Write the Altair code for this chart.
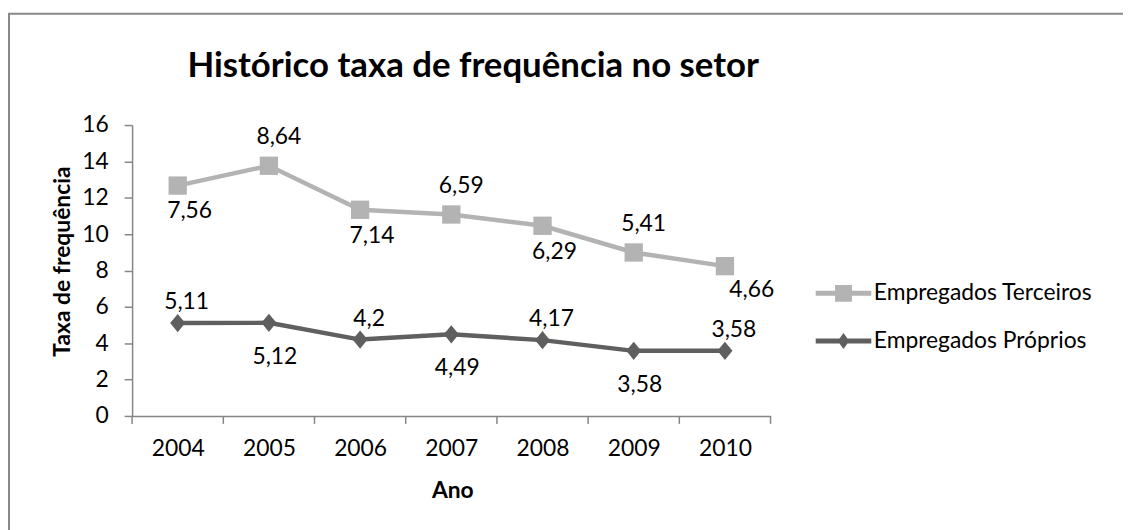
import altair as alt
import pandas as pd

# ---- data ----
years = [2004, 2005, 2006, 2007, 2008, 2009, 2010]
proprios = [5.11, 5.12, 4.2, 4.49, 4.17, 3.58, 3.58]
terceiros = [7.56, 8.64, 7.14, 6.59, 6.29, 5.41, 4.66]
series = ["Empregados Terceiros", "Empregados Próprios"]
y_ticks = [0, 2, 4, 6, 8, 10, 12, 14, 16]
title_text = ["Histórico taxa de frequência no setor"]

df = pd.DataFrame({"ano": years, "proprios": proprios, "terceiros": terceiros})
edges = pd.DataFrame({"edge": [y - 0.5 for y in years] + [years[-1] + 0.5]})
leg = pd.DataFrame({"serie": series})
one = pd.DataFrame({"t": title_text})

FONT = "Lato"
C_TERC = "#b3b3b3"
C_PROP = "#5f5f5f"
AXC = "#868686"
W, H = 643, 293
FS = 23

x_scale = alt.Scale(domain=[years[0] - 0.5, years[-1] + 0.5], nice=False, zero=False)
y_scale = alt.Scale(domain=[0, 16], nice=False)

x_axis = alt.Axis(values=years, format="d", ticks=False, tickSize=0, grid=False,
                  labelPadding=33, labelBaseline="middle", labelFontSize=FS,
                  domainColor=AXC, domainWidth=1.5,
                  title="Ano", titleX=W / 2 + 1, titleY=75, titleBaseline="middle",
                  titleAlign="center", titleAnchor="middle")
y_axis = alt.Axis(values=y_ticks, grid=False, tickSize=8, tickColor=AXC, tickWidth=1.5,
                  domainColor=AXC, domainWidth=1.5, labelPadding=16, labelFontSize=FS,
                  title="Taxa de frequência", titleX=-70, titleY=137, titleAngle=270,
                  titleBaseline="middle", titleAlign="center")

X = alt.X("ano:Q", scale=x_scale, axis=x_axis)

base = alt.Chart(df).transform_calculate(
    terc_stack="datum.proprios + datum.terceiros",
    lab_p="replace(toString(datum.proprios), '.', ',')",
    lab_t="replace(toString(datum.terceiros), '.', ',')",
)

Y_T = alt.Y("terc_stack:Q", scale=y_scale, axis=y_axis)
Y_P = alt.Y("proprios:Q", scale=y_scale, axis=y_axis)

diamond = "M0,-1L0.82,0L0,1L-0.82,0Z"

line_t = base.mark_line(color=C_TERC, strokeWidth=4.5).encode(x=X, y=Y_T)
line_p = base.mark_line(color=C_PROP, strokeWidth=4.5).encode(x=X, y=Y_P)
pts_t = base.mark_point(shape="square", filled=True, size=340, color=C_TERC, opacity=1).encode(x=X, y=Y_T)
pts_p = base.mark_point(shape=diamond, filled=True, size=340, color=C_PROP, opacity=1).encode(x=X, y=Y_P)

txt = dict(font=FONT, fontSize=FS, color="black", align="center", baseline="middle")
lt_below = base.transform_filter("datum.ano % 2 == 0 && datum.ano < 2010").mark_text(dx=12, dy=26, **txt).encode(x=X, y=Y_T, text="lab_t:N")
lt_above = base.transform_filter("datum.ano % 2 == 1").mark_text(dx=10, dy=-29, **txt).encode(x=X, y=Y_T, text="lab_t:N")
lt_last = base.transform_filter("datum.ano == 2010").mark_text(dx=27, dy=24, **txt).encode(x=X, y=Y_T, text="lab_t:N")
lp_above = base.transform_filter("datum.ano % 2 == 0").mark_text(dx=9, dy=-21, **txt).encode(x=X, y=Y_P, text="lab_p:N")
lp_below = base.transform_filter("datum.ano % 2 == 1").mark_text(dx=6, dy=34, **txt).encode(x=X, y=Y_P, text="lab_p:N")

ticks = alt.Chart(edges).mark_rule(color=AXC, strokeWidth=1.5).encode(
    x=alt.X("edge:Q", scale=x_scale, axis=x_axis), y=alt.value(H), y2=alt.value(H + 8))

frame = alt.Chart(one).mark_rect(filled=False, stroke="#888888", strokeWidth=2).encode(
    x=alt.value(-124), x2=alt.value(1010), y=alt.value(-112), y2=alt.value(430))

title = alt.Chart(one).mark_text(font=FONT, fontSize=35, fontWeight="bold", color="black",
                                 align="center", baseline="middle").encode(
    x=alt.value(W / 2 + 22), y=alt.value(-59), text="t:N")

path_t = "M-2.8,-0.25H-0.85V-0.85H0.85V-0.25H2.8V0.25H0.85V0.85H-0.85V0.25H-2.8Z"
path_p = "M-2.8,-0.25H-0.4L0,-0.8L0.4,-0.25H2.8V0.25H0.4L0,0.8L-0.4,0.25H-2.8Z"

legend_def = alt.Legend(orient="none", legendX=705, legendY=158, title=None,
                        labelFont=FONT, labelFontSize=FS, labelColor="black",
                        labelOffset=19, symbolSize=400, symbolStrokeWidth=0,
                        rowPadding=24, padding=0, symbolOpacity=1, labelLimit=400)
legend_layer = alt.Chart(leg).mark_point(filled=True, opacity=0, size=400).encode(
    color=alt.Color("serie:N", scale=alt.Scale(domain=series, range=[C_TERC, C_PROP]),
                    legend=legend_def, sort=series),
    shape=alt.Shape("serie:N", scale=alt.Scale(domain=series, range=[path_t, path_p]),
                    legend=legend_def, sort=series),
)

chart = alt.layer(
    frame, title, ticks, line_t, line_p, pts_t, pts_p,
    lt_below, lt_above, lt_last, lp_above, lp_below, legend_layer
).properties(
    width=W, height=H,
    autosize=alt.AutoSizeParams(type="none"),
    padding={"left": 125, "top": 116, "right": 355, "bottom": 113},
    background="white",
).configure_view(stroke=None).configure_axis(
    labelFont=FONT, titleFont=FONT, labelColor="black", titleColor="black",
    titleFontSize=23, titleFontWeight="bold",
)

chart.save("out.html", embed_options={"renderer": "svg", "actions": False})
